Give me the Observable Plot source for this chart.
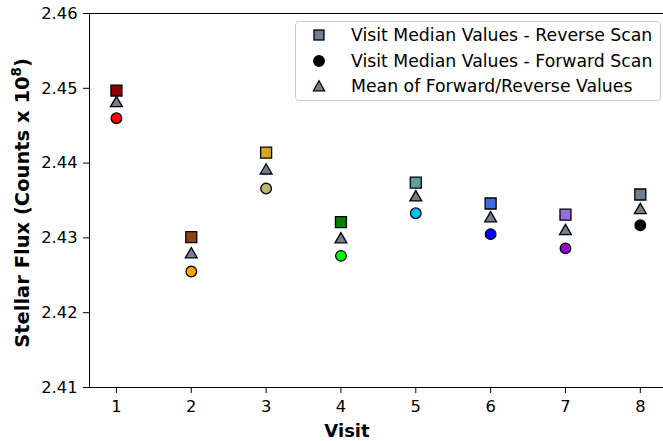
<!DOCTYPE html>
<html>
<head>
<meta charset="utf-8">
<script src="https://cdn.jsdelivr.net/npm/d3@7"></script>
<script src="https://cdn.jsdelivr.net/npm/@observablehq/plot@0.6"></script>
<style>
  html, body { margin: 0; padding: 0; background: #fff; }
  #wrap { position: relative; width: 663px; height: 441px; font-family: "DejaVu Sans", sans-serif; }
  #legend { position: absolute; left: 295px; top: 21px; width: 364px; height: 78px; border: 1px solid #ccc; border-radius: 4px; background: rgba(255,255,255,0.8); font-size: 17.3px; color: #000; }
  .row { position: absolute; left: 0; height: 20px; display: flex; align-items: center; white-space: nowrap; }
  .row svg { margin-left: 16px; margin-right: 25px; }
</style>
</head>
<body>
<div id="wrap">
  <div id="chart"></div>
  <div id="legend"></div>
</div>
<script>
const visits = [1, 2, 3, 4, 5, 6, 7, 8];
const reverseScan = [2.4497, 2.4301, 2.4414, 2.4321, 2.4374, 2.4346, 2.4331, 2.4358];
const forwardScan = [2.4460, 2.4255, 2.4366, 2.4276, 2.4333, 2.4305, 2.4286, 2.4317];
const meanValues = [2.4480, 2.4278, 2.4390, 2.4298, 2.4354, 2.4326, 2.4309, 2.4337];
const reverseColors = ["#8B0000", "#8B4513", "#DAA520", "#008000", "#5F9EA0", "#4169E1", "#9370DB", "#708090"];
const forwardColors = ["#FF0000", "#FFA500", "#BDB76B", "#00FF00", "#00BFFF", "#0000FF", "#9400D3", "#000000"];
const meanColor = "#708090";
const yTicks = [2.41, 2.42, 2.43, 2.44, 2.45, 2.46];
const xDomain = [0.64, 8.31];
const yDomain = [2.41, 2.46];
const legendLabels = ["Visit Median Values - Reverse Scan", "Visit Median Values - Forward Scan", "Mean of Forward/Reverse Values"];

const rows = visits.map((v, i) => ({visit: v, rev: reverseScan[i], fwd: forwardScan[i], mean: meanValues[i], rc: reverseColors[i], fc: forwardColors[i]}));

const chart = Plot.plot({
  width: 663,
  height: 441,
  marginLeft: 89,
  marginRight: 0,
  marginTop: 13,
  marginBottom: 54,
  style: {fontFamily: "DejaVu Sans, sans-serif", fontSize: "16px", color: "#000", background: "#fff"},
  x: {domain: xDomain},
  y: {domain: yDomain},
  marks: [
    Plot.axisY({ticks: yTicks, tickFormat: d3.format(".2f"), tickSize: 6, tickPadding: 6, fontSize: 16.3, label: null, stroke: "#000"}),
    Plot.axisX({ticks: visits, tickFormat: d3.format("d"), tickSize: 6, tickPadding: 7, fontSize: 16.3, label: null, stroke: "#000"}),
    Plot.ruleY(yDomain, {stroke: "#000", strokeWidth: 1}),
    Plot.ruleX([xDomain[0]], {stroke: "#000", strokeWidth: 1}),
    Plot.dot(rows, {x: "visit", y: "rev", symbol: "square", r: 6.2, fill: "rc", stroke: "#000", strokeWidth: 1.3}),
    Plot.dot(rows, {x: "visit", y: "mean", symbol: "triangle", r: 4.4, fill: meanColor, stroke: "#000", strokeWidth: 1.3}),
    Plot.dot(rows, {x: "visit", y: "fwd", symbol: "circle", r: 5.3, fill: "fc", stroke: "#000", strokeWidth: 1.3})
  ]
});
document.getElementById("chart").appendChild(chart);

const svg = d3.select(chart);
svg.append("text")
  .attr("x", 347).attr("y", 437)
  .attr("text-anchor", "middle")
  .attr("font-family", "DejaVu Sans, sans-serif")
  .attr("font-weight", "bold").attr("font-size", 18)
  .attr("fill", "#000")
  .text("Visit");
const yl = svg.append("text")
  .attr("transform", "translate(29,203) rotate(-90)")
  .attr("text-anchor", "middle")
  .attr("font-family", "DejaVu Sans, sans-serif")
  .attr("font-weight", "bold").attr("font-size", 19.5)
  .attr("fill", "#000");
yl.append("tspan").text("Stellar Flux (Counts x 10");
yl.append("tspan").attr("font-size", 13.5).attr("dy", -8).text("8");
yl.append("tspan").attr("dy", 8).text(")");

// legend
const legend = document.getElementById("legend");
const symbols = [
  `<svg width="14" height="14"><rect x="2" y="2" width="10" height="10" fill="${meanColor}" stroke="#000" stroke-width="1.3"/></svg>`,
  `<svg width="14" height="14"><circle cx="7" cy="7" r="5.3" fill="#000" stroke="#000" stroke-width="1.3"/></svg>`,
  `<svg width="14" height="14"><path d="M7,1.8 L12.6,11.8 L1.4,11.8 Z" fill="${meanColor}" stroke="#000" stroke-width="1.3"/></svg>`
];
legendLabels.forEach((lab, i) => {
  const r = document.createElement("div");
  r.className = "row";
  r.style.top = (3 + i * 25.5) + "px";
  r.innerHTML = symbols[i] + `<span>${lab}</span>`;
  legend.appendChild(r);
});
</script>
</body>
</html>
